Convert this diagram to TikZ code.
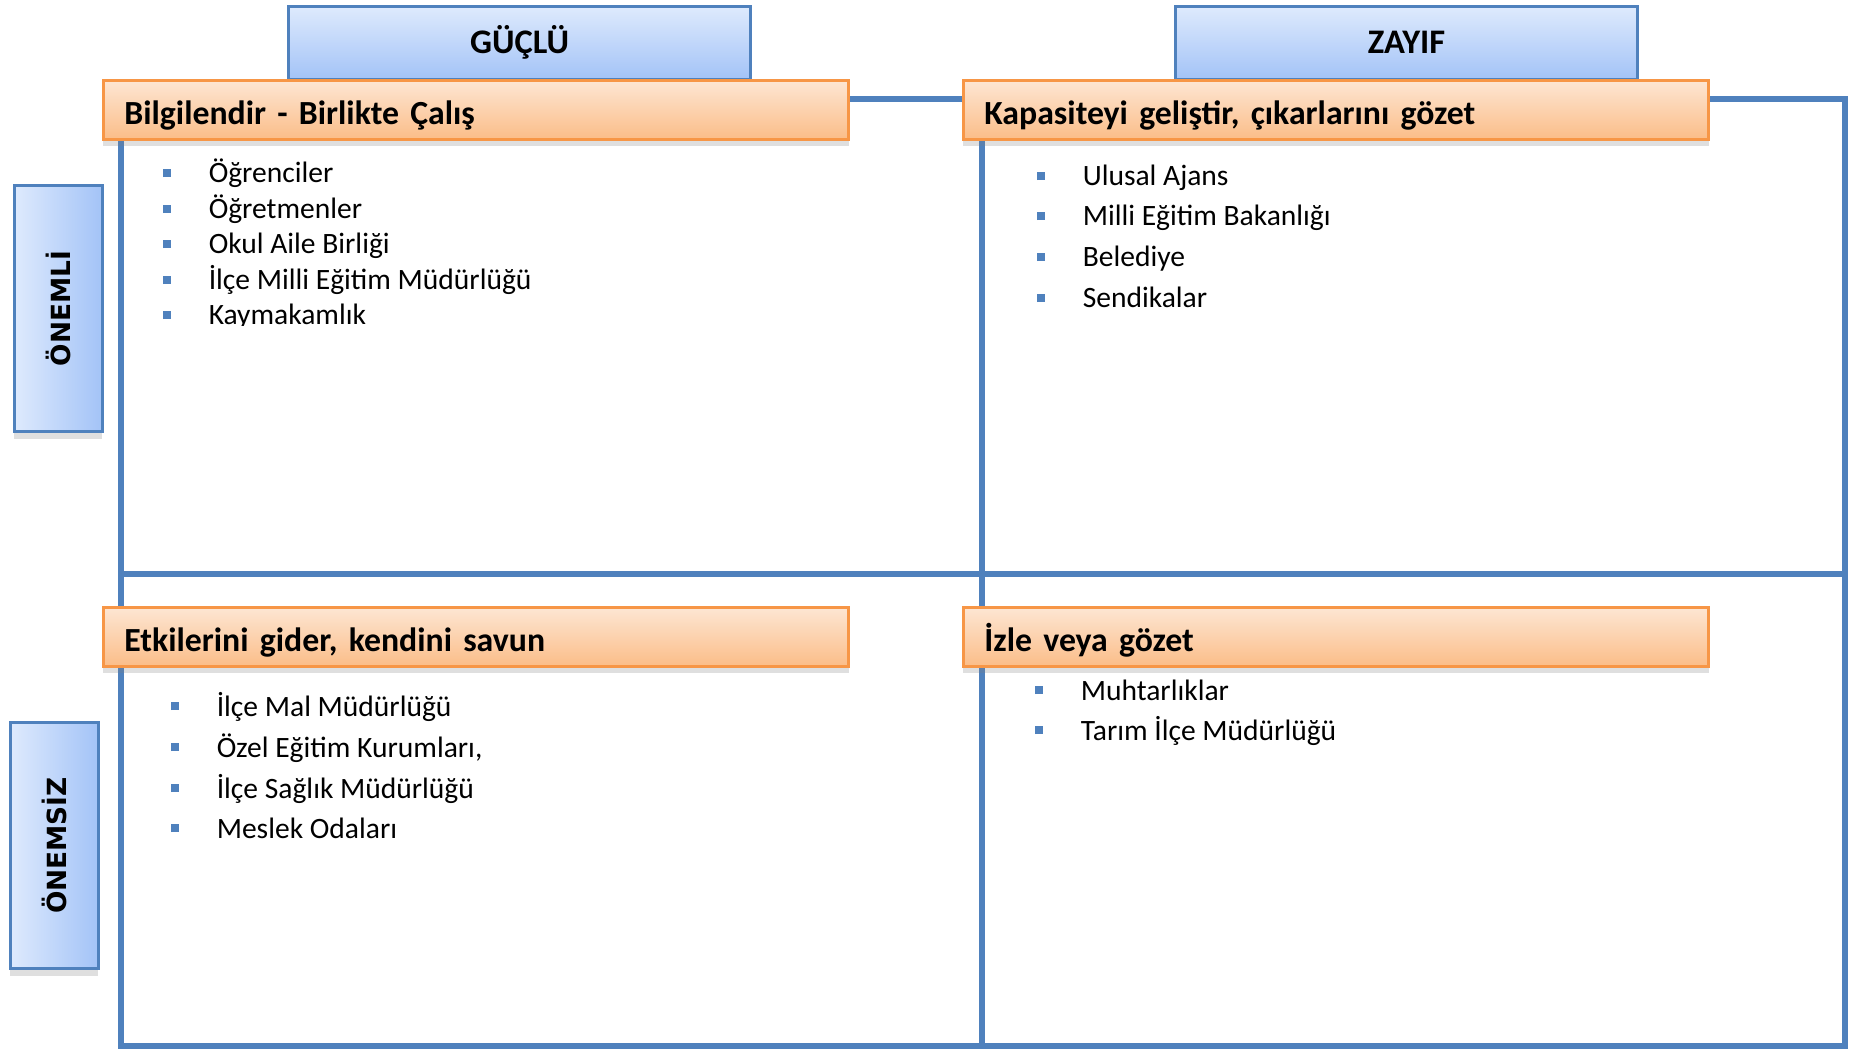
\documentclass[tikz,border=0pt]{standalone}
\usepackage{fontspec}
\setmainfont{Carlito}
\newfontfamily\yanyazi{DejaVu Sans}
\usetikzlibrary{shadows}
\definecolor{cizgimavi}{RGB}{79,129,189}
\definecolor{maviacik}{RGB}{222,234,253}
\definecolor{mavikoyu}{RGB}{163,195,247}
\definecolor{turuncu}{RGB}{247,150,70}
\definecolor{turuncuacik}{RGB}{253,230,211}
\definecolor{turuncukoyu}{RGB}{251,189,136}
\newcommand{\kare}{\textcolor{cizgimavi}{\rule[1.7pt]{2.3pt}{2.3pt}}\hspace{10.8pt}}
\tikzset{
  izgara/.style={draw=cizgimavi, line width=1.7pt},
  baslik/.style={draw=turuncu, line width=0.8pt, top color=turuncuacik, bottom color=turuncukoyu,
    anchor=north west, inner ysep=0pt, inner xsep=0.21cm, text width=7.03cm, align=left,
    text height=0.44cm, text depth=0.15cm, font=\bfseries\fontsize{9.6}{11}\selectfont,
    drop shadow={opacity=0.25, shadow xshift=0pt, shadow yshift=-2pt}},
  ustkutu/.style={draw=cizgimavi, line width=0.8pt, top color=maviacik, bottom color=mavikoyu,
    anchor=north west, inner ysep=0pt, inner xsep=0.11cm, text width=4.4cm, align=center,
    text height=0.47cm, text depth=0.26cm, font=\bfseries\fontsize{9.8}{11}\selectfont,
    drop shadow={opacity=0.25, shadow xshift=0pt, shadow yshift=-2pt}},
  yankutu/.style={draw=cizgimavi, line width=0.8pt, left color=maviacik, right color=mavikoyu,
    anchor=north west, inner sep=0pt, minimum width=0.88cm, minimum height=2.46cm,
    font=\yanyazi\bfseries\fontsize{7.5}{9}\selectfont,
    drop shadow={opacity=0.25, shadow xshift=0pt, shadow yshift=-2pt}},
  madde/.style={anchor=base west, inner sep=0pt, font=\fontsize{8.4}{10}\selectfont}
}
\begin{document}
\begin{tikzpicture}[x=0.01cm, y=-0.01cm]
\useasboundingbox (0,0) rectangle (1861,1049);
% grid
\draw[izgara] (121,99) rectangle (1845,1046);
\draw[izgara] (982,99) -- (982,1046);
\draw[izgara] (121,574) -- (1845,574);
% column and row titles
\node[ustkutu] (guclu) at (287,5) {GÜÇLÜ};
\node[ustkutu] (zayif) at (1174,5) {ZAYIF};
\node[yankutu] (onemli) at (13,184) {\rotatebox{90}{ÖNEMLİ}};
\node[yankutu] (onemsiz) at (9,721) {\rotatebox{90}{ÖNEMSİZ}};
% quarter titles
\node[baslik] (b1) at (102,79) {Bilgilendir - Birlikte Çalış};
\node[baslik] (b2) at (962,79) {Kapasiteyi geliştir, çıkarlarını gözet};
\node[baslik] (b3) at (102,606) {Etkilerini gider, kendini savun};
\node[baslik] (b4) at (962,606) {İzle veya gözet};
% items
\node[madde] (m11) at (162,183) {\kare Öğrenciler};
\node[madde] (m12) at (162,219) {\kare Öğretmenler};
\node[madde] (m13) at (162,254) {\kare Okul Aile Birliği};
\node[madde] (m14) at (162,290) {\kare İlçe Milli Eğitim Müdürlüğü};
\begin{scope}
\clip (150,290) rectangle (700,326);
\node[madde] (m15) at (162,325) {\kare Kaymakamlık};
\end{scope}
\node[madde] (m21) at (1036,186) {\kare Ulusal Ajans};
\node[madde] (m22) at (1036,226) {\kare Milli Eğitim Bakanlığı};
\node[madde] (m23) at (1036,267) {\kare Belediye};
\node[madde] (m24) at (1036,308) {\kare Sendikalar};
\node[madde] (m31) at (170,716) {\kare İlçe Mal Müdürlüğü};
\node[madde] (m32) at (170,757) {\kare Özel Eğitim Kurumları,};
\node[madde] (m33) at (170,798) {\kare İlçe Sağlık Müdürlüğü};
\node[madde] (m34) at (170,838) {\kare Meslek Odaları};
\node[madde] (m41) at (1034,700) {\kare Muhtarlıklar};
\node[madde] (m42) at (1034,740) {\kare Tarım İlçe Müdürlüğü};
\end{tikzpicture}
\end{document}
